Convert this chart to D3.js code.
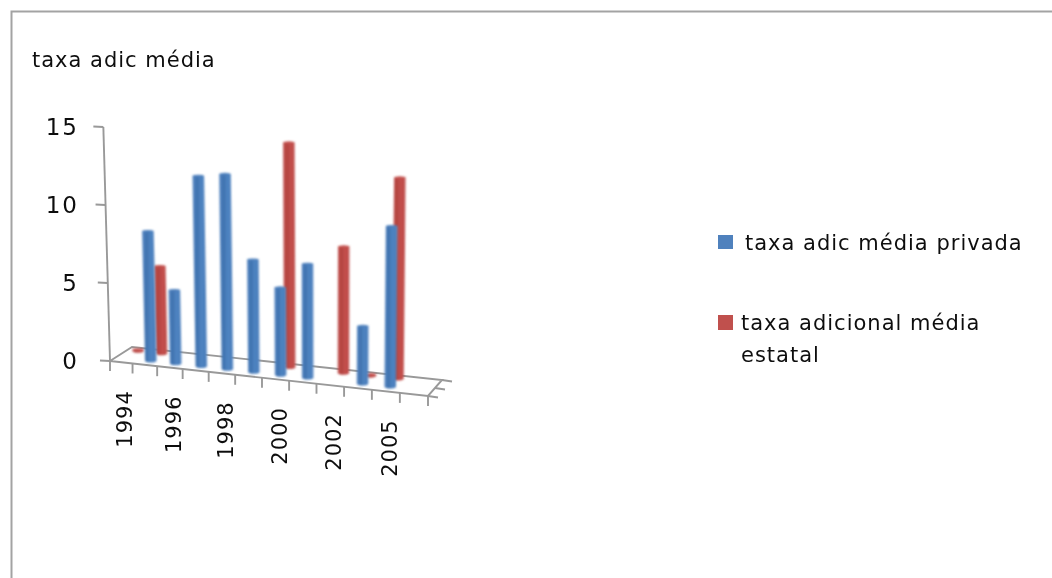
<!DOCTYPE html>
<html><head><meta charset="utf-8">
<script src="https://cdn.jsdelivr.net/npm/d3@7"></script>
<style>html,body{margin:0;padding:0;background:#fff;overflow:hidden}svg{display:block}text{font-family:"DejaVu Sans",sans-serif;fill:#111;font-size:21px;letter-spacing:1px}text.yl{font-size:23px;letter-spacing:2px}</style>
</head><body><svg id="c" width="1052" height="578"></svg>
<script>
const categories = ["1994","1995","1996","1997","1998","1999","2000","2001","2002","2003","2005",""];
const privada = [null,8.3,4.7,12.2,12.5,7.2,5.6,7.3,null,3.7,10.3,null];
const estatal = [0.1,5.6,null,null,null,null,14.4,null,8.1,0.1,12.9,null];
const yTicks = [0,5,10,15];
const labelled = ["1994","1996","1998","2000","2002","2005"];
const legendPriv = ["taxa adic média privada"];
const legendEst = ["taxa adicional média","estatal"];
const titleText = "taxa adic média";

const svg = d3.select("#c");
const W=1052,H=578;
const defs = svg.append("defs");
defs.append("filter").attr("id","soft").attr("x","-20%").attr("y","-10%").attr("width","140%").attr("height","120%")
  .append("feGaussianBlur").attr("stdDeviation",0.8);
defs.append("filter").attr("id","softT").attr("x","-5%").attr("y","-5%").attr("width","110%").attr("height","110%")
  .append("feGaussianBlur").attr("stdDeviation",0.45);
function grad(id,stops){
  const g=defs.append("linearGradient").attr("id",id);
  stops.forEach(s=>g.append("stop").attr("offset",s[0]).attr("stop-color",s[1]));
}
grad("gB",[[0,"#5f8dc6"],[0.12,"#4a7dbb"],[0.32,"#3f72ae"],[0.6,"#4f84c2"],[0.88,"#4a7ebb"],[1,"#6f9ad0"]]);
grad("gR",[[0,"#c9706e"],[0.12,"#be4b48"],[0.35,"#b24340"],[0.6,"#c4504d"],[0.88,"#be4b48"],[1,"#d07a78"]]);

svg.append("path").attr("d",`M11.5,${H}V11.5H${W}`).attr("fill","none").attr("stroke","#a3a3a3").attr("stroke-width",2);

const FL=[110,361],FR=[428,396],BL=[132,347],BR=[442,380];
const t=d3.scaleBand().domain(categories).range([0,1]);
const warp=d3.scalePow().exponent(1.065).domain([0,1]).range([0,1]);
const h=d3.scaleLinear().domain([0,15]).range([0,234]);
const depth=d3.scaleOrdinal().domain(["tick0","priv","est"]).range([0,0.29,0.8]);
function floor(u0,d){
  const u=warp(u0);
  const fx=FL[0]+(FR[0]-FL[0])*u, fy=FL[1]+(FR[1]-FL[1])*u;
  const bx=BL[0]+(BR[0]-BL[0])*u, by=BL[1]+(BR[1]-BL[1])*u;
  return [fx+(bx-fx)*d, fy+(by-fy)*d];
}
function lean(x,hh){return x+(x-323)*hh*1.335e-4;}

const ax=svg.append("g").attr("fill","none").attr("stroke","#999").attr("stroke-width",1.9).attr("filter","url(#softT)");
const line=d3.line();
ax.append("path").attr("d",line([FL,FR,BR,BL,FL]));
ax.append("path").attr("d",line([FL,[lean(FL[0],h(15)),FL[1]-h(15)]]));
ax.selectAll("path.yt").data(yTicks).join("path").attr("class","yt")
  .attr("d",v=>{const x=lean(FL[0],h(v)),y=FL[1]-h(v);return line([[x,y],[x-10,y-0.5]]);});
const uTicks=categories.map(c=>t(c)).concat([1]);
ax.selectAll("path.xt").data(uTicks).join("path").attr("class","xt")
  .attr("d",u=>{const p=floor(u,0);return line([p,[p[0],p[1]+10]]);});
ax.selectAll("path.dt").data([0,0.5,1]).join("path").attr("class","dt")
  .attr("d",d=>{const p=floor(1,d);return line([p,[p[0]+10,p[1]+1.5]]);});

function bars(cls,vals,dep,fill,solid){
  const g=svg.append("g").attr("filter","url(#soft)");
  const rows=categories.map((c,i)=>({c,v:vals[i]})).filter(r=>r.v!=null);
  const w=5.8;
  g.selectAll("path."+cls).data(rows).join("path").attr("class",cls)
   .attr("fill",`url(#${fill})`)
   .attr("d",r=>{
     const p=floor(t(r.c)+t.bandwidth()/2,dep);
     const H0=h(r.v), xt=lean(p[0],H0), yt=p[1]-H0;
     return `M${p[0]-w},${p[1]}L${xt-w},${yt}L${xt+w},${yt}L${p[0]+w},${p[1]}A${w},1.8 0 0 1 ${p[0]-w},${p[1]}Z`;
   });
  g.selectAll("ellipse."+cls).data(rows).join("ellipse").attr("class",cls)
   .attr("fill",solid)
   .attr("cx",r=>{const p=floor(t(r.c)+t.bandwidth()/2,dep);return lean(p[0],h(r.v));})
   .attr("cy",r=>floor(t(r.c)+t.bandwidth()/2,dep)[1]-h(r.v))
   .attr("rx",5.8).attr("ry",1.2);
}
bars("e",estatal,depth("est"),"gR","#c4524f");
bars("p",privada,depth("priv"),"gB","#4f81bd");

const T=svg.append("g").attr("filter","url(#softT)");
T.append("text").attr("x",32).attr("y",67).text(titleText);
T.selectAll("text.yl").data(yTicks).join("text").attr("class","yl")
  .attr("x",79).attr("y",v=>FL[1]-h(v)+8).attr("text-anchor","end").text(v=>v);
T.selectAll("text.xl").data(labelled).join("text").attr("class","xl")
  .attr("text-anchor","end")
  .attr("transform",c=>{const p=floor(t(c)+t.bandwidth()/2,0);return `translate(${p[0]+11},${p[1]+28}) rotate(-90)`;})
  .text(c=>c);

svg.append("rect").attr("x",718).attr("y",235).attr("width",15).attr("height",14).attr("fill","#4f81bd");
svg.append("rect").attr("x",718).attr("y",315).attr("width",15).attr("height",15).attr("fill","#c0504d");
T.append("text").attr("x",745).attr("y",250).text(legendPriv[0]);
T.selectAll("text.le").data(legendEst).join("text").attr("class","le")
  .attr("x",741).attr("y",(d,i)=>330+i*32).text(d=>d);
</script></body></html>
